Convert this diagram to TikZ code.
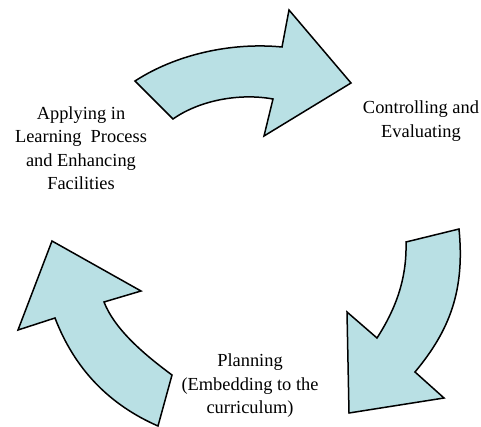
\documentclass[tikz,border=0pt]{standalone}
\usepackage{fontspec}
\setmainfont{Liberation Serif}
\newfontfamily\timesfont{Liberation Serif}
\definecolor{arrowfill}{RGB}{185,224,228}
\begin{document}
\begin{tikzpicture}[x=1pt,y=-1pt,
  cyclearrow/.style={draw=black,fill=arrowfill,line width=1.5pt,line join=miter},
  steplabel/.style={align=center,font=\timesfont\fontsize{18.4}{23.5}\selectfont,inner sep=0pt}]
\useasboundingbox (0,0) rectangle (481,427);
% top arrow
\draw[cyclearrow] (135,81) .. controls (175,55) and (230,42) .. (282,47) -- (289,10) -- (351,83) -- (264,136) -- (273,99) .. controls (240,93) and (200,100) .. (173,119) -- cycle;
% right arrow
\draw[cyclearrow] (406,242) -- (459,229) .. controls (465,290) and (450,330) .. (415,372) -- (444,398) -- (349,413) -- (347,312) -- (377,338) .. controls (395,310) and (407,280) .. (406,242) -- cycle;
% left arrow
\draw[cyclearrow] (158,426) -- (172,375) .. controls (145,355) and (115,330) .. (104,302) -- (141,291) -- (52,241) -- (18,330) -- (55,318) .. controls (75,370) and (110,405) .. (158,426) -- cycle;
\node[steplabel] (apply) at (81,148) {Applying in\\Learning\ \ Process\\and Enhancing\\Facilities};
\node[steplabel] (control) at (421,121) {Controlling and\\Evaluating};
\node[steplabel] (plan) at (250,386) {Planning\\(Embedding to the\\curriculum)};
\end{tikzpicture}
\end{document}
